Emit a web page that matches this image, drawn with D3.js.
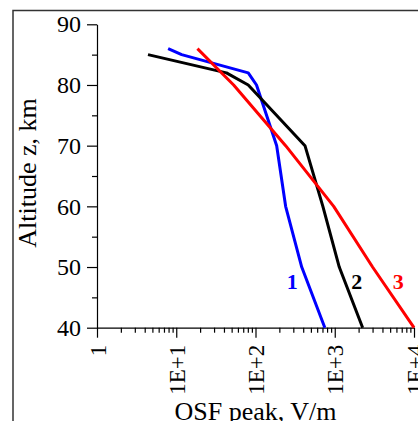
<!DOCTYPE html>
<html>
<head>
<meta charset="utf-8">
<script src="https://cdn.jsdelivr.net/npm/d3@7"></script>
<style>
  body { margin: 0; background: #fff; }
  svg { display: block; font-family: "Liberation Serif", "Times New Roman", serif; }
</style>
</head>
<body>
<div id="chart"></div>
<script>
// altitude levels (km) and peak field (V/m) for each curve
var alt1 = [86, 85, 82, 80, 70, 60, 50, 40];
var osf1 = [7.9, 11.7, 81, 103, 185, 240, 383, 750];

var alt2 = [85, 82, 80, 70, 60, 50, 40];
var osf2 = [4.4, 43, 81, 421, 708, 1140, 2250];

var alt3 = [86, 80, 70, 60, 50, 40];
var osf3 = [18.5, 53, 240, 970, 3000, 10000];

var curveNames = ["1", "2", "3"];
var curveColors = ["#0000ff", "#000000", "#ff0000"];
var labelOsf = [290, 1890, 6320];
var labelAlt = [46.4, 46.4, 46.4];

var xTickValues = [1, 10, 100, 1000, 10000];
var xTickLabels = ["1", "1E+1", "1E+2", "1E+3", "1E+4"];
var yTickValues = [40, 50, 60, 70, 80, 90];

var W = 418, H = 421;
var margin = {top: 24.3, left: 97, right: 4, bottom: 93.3};
var width = W - margin.left - margin.right,
    height = H - margin.top - margin.bottom;

var svg = d3.select("#chart").append("svg")
    .attr("width", W)
    .attr("height", H);

// outer frame (runs off the right and bottom edges)
svg.append("rect")
    .attr("x", 13).attr("y", 10.5)
    .attr("width", W + 20).attr("height", H + 20)
    .attr("fill", "none")
    .attr("stroke", "#333")
    .attr("stroke-width", 1.5);

var g = svg.append("g")
    .attr("transform", "translate(" + margin.left + "," + margin.top + ")");

var x = d3.scaleLog().domain([1, 10000]).range([0, width]);
var y = d3.scaleLinear().domain([40, 90]).range([height, 0]);

// minor ticks
var xMinor = [];
xTickValues.slice(0, -1).forEach(function(d) {
    for (var k = 2; k < 10; k++) xMinor.push(d * k);
});
var yMinor = [45, 55, 65, 75, 85];

g.append("g")
    .attr("transform", "translate(0," + height + ")")
    .call(d3.axisBottom(x).tickValues(xMinor).tickSize(5).tickFormat(""))
    .call(function(s) { s.select(".domain").remove(); });

g.append("g")
    .call(d3.axisLeft(y).tickValues(yMinor).tickSize(5).tickFormat(""))
    .call(function(s) { s.select(".domain").remove(); });

var xAxis = g.append("g")
    .attr("transform", "translate(0," + height + ")")
    .call(d3.axisBottom(x).tickValues(xTickValues).tickSize(10).tickSizeOuter(0)
        .tickFormat(function(d, i) { return xTickLabels[i]; }));

xAxis.selectAll("text")
    .attr("transform", "rotate(-90)")
    .attr("text-anchor", "end")
    .attr("x", -17)
    .attr("y", 0)
    .attr("dy", "0.35em")
    .style("font-size", "23px")
    .style("font-family", "Liberation Serif");

var yAxis = g.append("g")
    .call(d3.axisLeft(y).tickValues(yTickValues).tickSize(10).tickSizeOuter(0).tickPadding(6));

yAxis.selectAll("text")
    .style("font-size", "24px")
    .style("font-family", "Liberation Serif");

g.selectAll(".domain, .tick line").attr("stroke", "#000").attr("stroke-width", 1.2);
svg.selectAll(".tick text").attr("fill", "#000");

// curves
var line = d3.line()
    .x(function(d) { return x(d[0]); })
    .y(function(d) { return y(d[1]); });

var series = [d3.zip(osf1, alt1), d3.zip(osf2, alt2), d3.zip(osf3, alt3)];

g.selectAll(".curve")
    .data(series)
    .enter().append("path")
    .attr("class", "curve")
    .attr("d", line)
    .attr("fill", "none")
    .attr("stroke", function(d, i) { return curveColors[i]; })
    .attr("stroke-width", 3)
    .attr("stroke-linejoin", "round");

g.selectAll(".clabel")
    .data(curveNames)
    .enter().append("text")
    .attr("class", "clabel")
    .attr("x", function(d, i) { return x(labelOsf[i]); })
    .attr("y", function(d, i) { return y(labelAlt[i]); })
    .attr("text-anchor", "middle")
    .attr("fill", function(d, i) { return curveColors[i]; })
    .style("font-size", "22px")
    .style("font-weight", "bold")
    .text(function(d) { return d; });

// axis titles
svg.append("text")
    .attr("x", margin.left + width / 2)
    .attr("y", 420)
    .attr("text-anchor", "middle")
    .style("font-size", "26px")
    .text("OSF peak, V/m");

svg.append("text")
    .attr("transform", "translate(36," + (margin.top + height / 2 - 3) + ") rotate(-90)")
    .attr("text-anchor", "middle")
    .style("font-size", "26px")
    .text("Altitude z, km");
</script>
</body>
</html>
